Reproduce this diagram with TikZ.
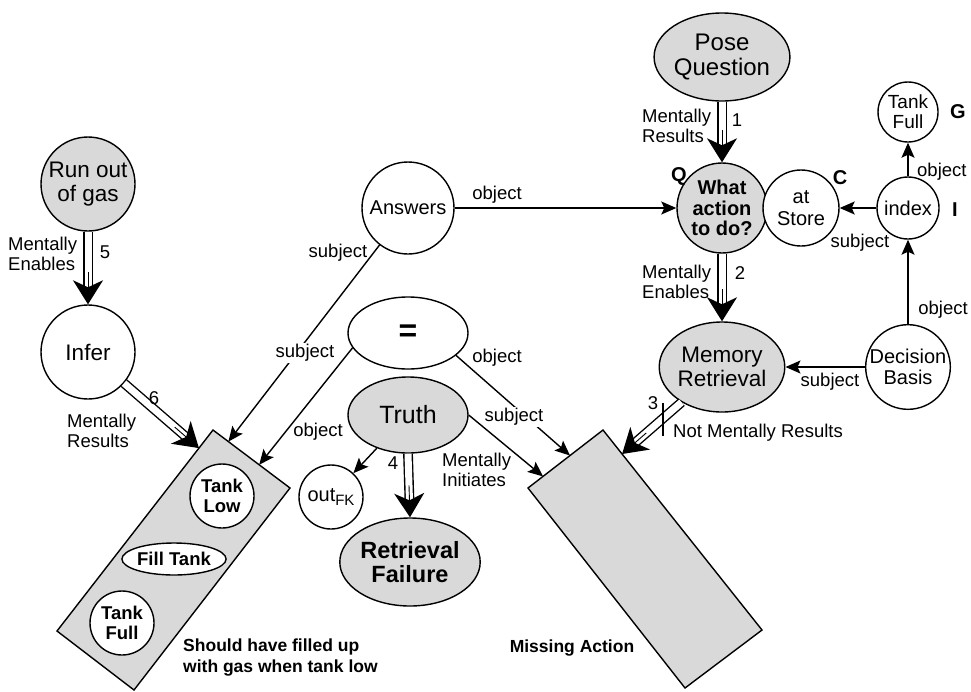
\documentclass[tikz,border=0pt]{standalone}
\usepackage{fontspec}
\setmainfont{Liberation Sans}
\usetikzlibrary{arrows.meta,shapes.geometric,calc}

\definecolor{shade}{RGB}{217,217,217}

\tikzset{
  ent/.style={draw, line width=1.4pt, inner sep=0pt, align=center},
  circ/.style={ent, circle},
  ell/.style={ent, ellipse},
  grey/.style={fill=shade},
  white/.style={fill=white},
  fbig/.style={font=\fontsize{22.5}{23.5}\selectfont},
  fmid/.style={font=\fontsize{20}{21.5}\selectfont},
  fsmall/.style={font=\fontsize{19}{20}\selectfont},
  fbold/.style={font=\fontsize{18.5}{20}\selectfont\bfseries},
  lbl/.style={font=\fontsize{18.5}{19.5}\selectfont, inner sep=1pt, align=left},
  tag/.style={font=\fontsize{20}{20}\selectfont\bfseries, inner sep=0pt},
  caption/.style={font=\fontsize{17.5}{21}\selectfont\bfseries, inner sep=0pt, align=left},
  link/.style={line width=1.4pt, -{Stealth[length=15pt,width=13pt,inset=3pt]}},
  causal/.style={line width=1.4pt, double distance=7pt,
    -{Stealth[length=24pt,width=30pt,inset=7pt]}},
  core/.style={line width=0.9pt},
  rectbox/.style={draw, line width=1.4pt, fill=shade, line join=miter},
}

\begin{document}
\begin{tikzpicture}[x=1pt,y=-1pt]
\path[use as bounding box] (0,0) rectangle (971,691);

% tilted plan boxes
\coordinate (L1) at (213,430);
\coordinate (L2) at (290,488);
\coordinate (L3) at (134,690);
\coordinate (L4) at (57,631);
\draw[rectbox] (L1) -- (L2) -- (L3) -- (L4) -- cycle;

\coordinate (M1) at (603,430);
\coordinate (M2) at (762,630);
\coordinate (M3) at (685,688);
\coordinate (M4) at (528,488);
\draw[rectbox] (M1) -- (M2) -- (M3) -- (M4) -- cycle;

% arrow targets on the box edges
\coordinate (Lsix) at ($(L1)!0.09!(L4)$);
\coordinate (Lsubj) at ($(L1)!0.2!(L2)$);
\coordinate (Lobj) at ($(L1)!0.6!(L2)$);
\coordinate (Mtruth) at ($(M1)!0.8!(M4)$);
\coordinate (Meq) at ($(M1)!0.44!(M4)$);
\coordinate (Mthree) at ($(M1)!0.12!(M2)$);

% states and acts
\node[ell, grey, font=\fontsize{24}{25}\selectfont, minimum width=110pt, minimum height=88pt] (poseq) at (722,57) {Pose\\Question};
\node[circ, grey, font=\fontsize{20}{20.5}\selectfont\bfseries, minimum size=90pt] (what) at (722,208) {What\\action\\to do?};
\node[circ, white, fmid, minimum size=76pt] (store) at (801,208) {at\\Store};
\node[circ, white, fsmall, minimum size=60pt] (tankG) at (908,112) {Tank\\Full};
\node[circ, white, fmid, minimum size=62pt] (index) at (908,208) {index};
\node[circ, white, fmid, minimum size=82pt] (basis) at (908,367) {Decision\\Basis};
\node[ell, grey, fbig, minimum width=108pt, minimum height=90pt] (memory) at (722,367) {Memory\\Retrieval};
\node[circ, white, fmid, minimum size=92pt] (answers) at (408,208) {Answers};
\node[ell, white, font=\fontsize{32}{32}\selectfont\bfseries, minimum width=120pt, minimum height=72pt] (eq) at (408,333) {=};
\node[ell, grey, font=\fontsize{25}{25}\selectfont, minimum width=120pt, minimum height=76pt] (truth) at (408,415) {Truth};
\node[circ, white, fmid, minimum size=64pt] (outfk) at (331,497) {out\raisebox{-4pt}{\fontsize{15}{15}\selectfont FK}};
\node[ell, grey, font=\fontsize{23.5}{24.5}\selectfont\bfseries, minimum width=124pt, minimum height=88pt] (failure) at (410,562) {Retrieval\\Failure};
\node[circ, grey, fbig, minimum size=94pt] (runout) at (88,184) {Run out\\of gas};
\node[circ, white, fbig, minimum size=94pt] (infer) at (88,352) {Infer};

\node[circ, white, fbold, minimum size=64pt] (tanklow) at (222,496) {Tank\\Low};
\node[ell, white, fbold, minimum width=96pt, minimum height=32pt] (filltank) at (174,559) {Fill Tank};
\node[circ, white, fbold, minimum size=64pt] (tankfull) at (122,623) {Tank\\Full};

% causal links
\draw[causal] (poseq.south) -- (what.north);
\draw[causal] (what.south) -- (memory.north);
\draw[causal] (runout.south) -- (infer.north);
\draw[causal] (infer) -- (Lsix);
\draw[causal] (truth.south) -- (failure.north);
\draw[causal] (memory) -- (Mthree);
\draw[core] ($(what.north)!12pt!(poseq.south)$) -- ($(what.north)!32pt!(poseq.south)$);
\draw[core] ($(memory.north)!12pt!(what.south)$) -- ($(memory.north)!32pt!(what.south)$);
\draw[core] ($(infer.north)!12pt!(runout.south)$) -- ($(infer.north)!32pt!(runout.south)$);
\draw[core] ($(Lsix)!12pt!(infer)$) -- ($(Lsix)!32pt!(infer)$);
\draw[core] ($(failure.north)!12pt!(truth.south)$) -- ($(failure.north)!32pt!(truth.south)$);
\draw[core] ($(Mthree)!12pt!(memory)$) -- ($(Mthree)!32pt!(memory)$);
% negation bar
\draw[line width=1.4pt] (663,403) -- (663,436);

% role links
\draw[link] (answers) -- (what);
\draw[link] (index) -- (store);
\draw[link] (index) -- (tankG);
\draw[link] (basis) -- (index);
\draw[link] (basis) -- (memory);
\draw[link] (answers) -- (Lsubj);
\draw[link] (eq.195) -- (Lobj);
\draw[link] (eq.-25) -- (Meq);
\draw[link] (truth.east) -- (Mtruth);
\draw[link] (truth) -- (outfk);

% link labels
\node[lbl] (t1) at (497,195) {object};
\node[lbl] (t2) at (338,253) {subject};
\node[lbl, fill=white] (t3) at (305,353) {subject};
\node[lbl] (t4) at (318,432) {object};
\node[lbl] (t5) at (497,358) {object};
\node[lbl, fill=white] (t6) at (514,417) {subject};
\node[lbl, anchor=west] (t7) at (441,470) {Mentally\\Initiates};
\node[lbl] (t8) at (393,463) {4};
\node[lbl, anchor=west] (t9) at (641,126) {Mentally\\Results};
\node[lbl] (t10) at (737,120) {1};
\node[lbl, anchor=west] (t11) at (641,282) {Mentally\\Enables};
\node[lbl] (t12) at (740,273) {2};
\node[lbl, anchor=west] (t13) at (916,172) {object};
\node[lbl] (t14) at (860,243) {subject};
\node[lbl] (t15) at (943,310) {object};
\node[lbl] (t16) at (830,382) {subject};
\node[lbl] (t17) at (653,403) {3};
\node[lbl, anchor=west] (t18) at (672,433) {Not Mentally Results};
\node[lbl, anchor=west] (t19) at (7,254) {Mentally\\Enables};
\node[lbl] (t20) at (105,252) {5};
\node[lbl] (t21) at (154,398) {6};
\node[lbl, anchor=west] (t22) at (66,431) {Mentally\\Results};

% slot letters
\node[tag] (gQ) at (679,176) {Q};
\node[tag] (gC) at (840,178) {C};
\node[tag] (gG) at (958,112) {G};
\node[tag] (gI) at (955,210) {I};

% captions
\node[caption, anchor=west] (cap1) at (183,658) {Should have filled up\\with gas when tank low};
\node[caption] (cap2) at (572,648) {Missing Action};
\end{tikzpicture}
\end{document}
